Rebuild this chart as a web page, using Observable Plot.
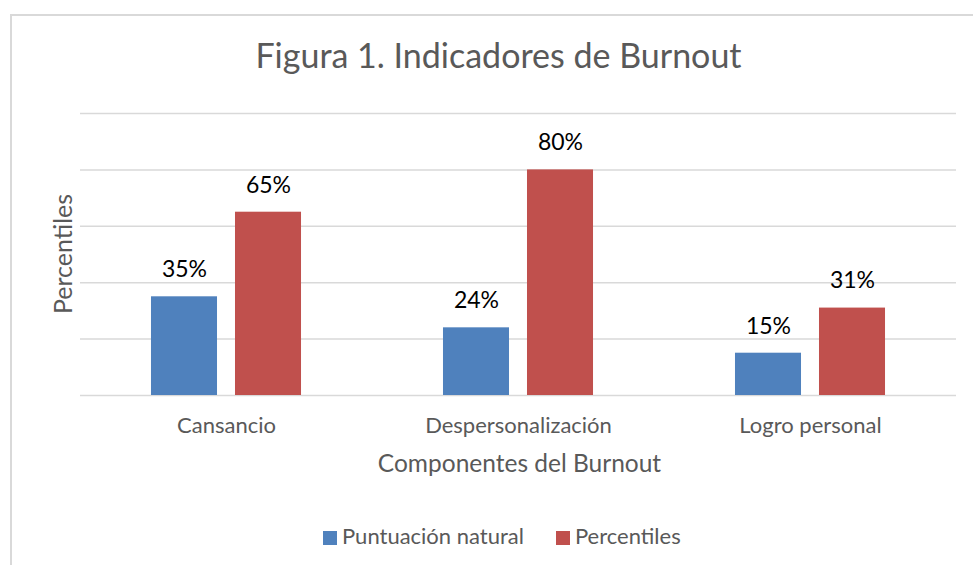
<!DOCTYPE html>
<html><head><meta charset="utf-8">
<script src="https://cdn.jsdelivr.net/npm/d3@7"></script>
<script src="https://cdn.jsdelivr.net/npm/@observablehq/plot@0.6"></script>
<style>
html,body{margin:0;padding:0;background:#fff;overflow:hidden}
#wrap{position:relative;width:973px;height:565px;overflow:hidden;font-family:Lato,sans-serif;color:#595959;background:#fff}
#frame{position:absolute;left:10px;top:14px;width:1000px;height:600px;border:2px solid #d9d9d9;box-sizing:border-box}
.t{position:absolute;line-height:1;white-space:nowrap}
#title{font-size:34px;top:37.8px;left:498.5px;transform:translateX(-50%)}
#xtitle{font-size:24.5px;top:451.3px;left:519.5px;transform:translateX(-50%)}
#ytitle{font-size:25px;left:61.5px;top:253.5px;transform:translate(-50%,-50%) rotate(-90deg)}
#legend{position:absolute;left:323px;top:524.5px;display:flex;align-items:center;font-size:22px;line-height:1;white-space:nowrap}
#legend .item{display:flex;align-items:center;margin-right:32px}
#legend .sw{width:14px;height:14px;margin-right:5px;position:relative;top:2px}
#chart{position:absolute;left:0;top:0}
</style></head>
<body>
<div id="wrap">
  <div id="frame"></div>
  <div id="chart"></div>
  <div class="t" id="title"></div>
  <div class="t" id="ytitle"></div>
  <div class="t" id="xtitle"></div>
  <div id="legend"></div>
</div>
<script>
const titleText = "Figura 1. Indicadores de Burnout";
const yLabel = "Percentiles";
const xLabel = "Componentes del Burnout";
const categories = ["Cansancio", "Despersonalización", "Logro personal"];
const series = ["Puntuación natural", "Percentiles"];
const puntuacionNatural = [35, 24, 15];
const percentiles = [65, 80, 31];
const gridTicks = [0, 20, 40, 60, 80, 100];
const colors = ["#4F81BD", "#C0504D"];

const data = categories.flatMap((c, i) => [
  {category: c, series: series[0], value: puntuacionNatural[i]},
  {category: c, series: series[1], value: percentiles[i]}
]);

const chart = Plot.plot({
  width: 973, height: 565,
  marginTop: 113, marginBottom: 170, marginLeft: 80, marginRight: 17,
  style: {fontFamily: "Lato, sans-serif", fontSize: "22px", color: "#595959", background: "transparent", overflow: "visible"},
  fx: {domain: categories, padding: 0, label: null, tickSize: 0, tickPadding: 22},
  x: {domain: series, paddingInner: 0.214, paddingOuter: 0.845, axis: null, round: false},
  y: {domain: [0, 100], axis: null},
  color: {domain: series, range: colors},
  marks: [
    Plot.ruleY(gridTicks, {stroke: "#d9d9d9", strokeWidth: 1.5}),
    Plot.barY(data, {fx: "category", x: "series", y: "value", fill: "series"}),
    Plot.text(data, {fx: "category", x: "series", y: "value", text: d => d.value + "%", dy: -27, fill: "#000", fontSize: 23})
  ]
});
document.getElementById("chart").appendChild(chart);
document.getElementById("title").textContent = titleText;
document.getElementById("ytitle").textContent = yLabel;
document.getElementById("xtitle").textContent = xLabel;
const legend = document.getElementById("legend");
series.forEach((s, i) => {
  const item = document.createElement("div");
  item.className = "item";
  const sw = document.createElement("span");
  sw.className = "sw";
  sw.style.background = colors[i];
  const lab = document.createElement("span");
  lab.textContent = s;
  item.appendChild(sw);
  item.appendChild(lab);
  legend.appendChild(item);
});
</script>
</body></html>
